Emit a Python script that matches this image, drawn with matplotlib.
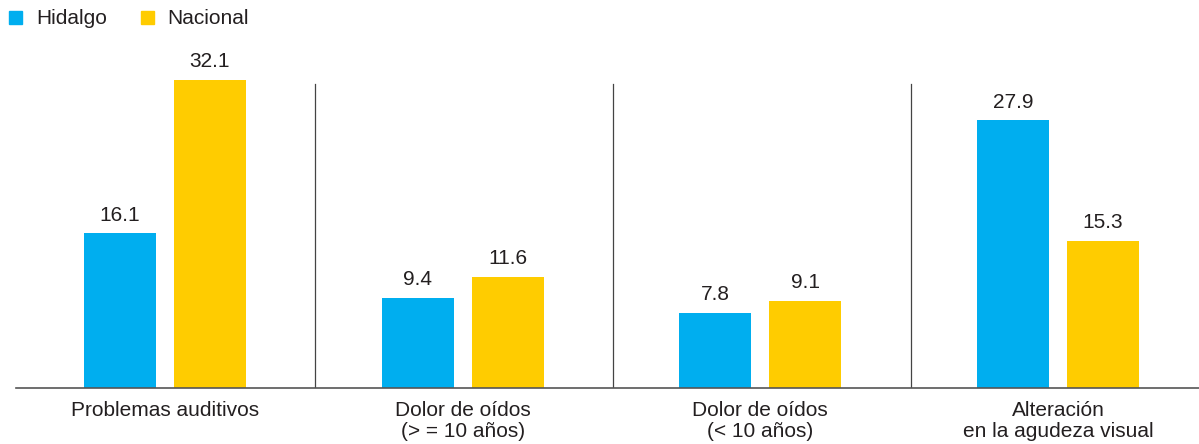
import numpy as np
import matplotlib.pyplot as plt
from matplotlib.patches import Rectangle

plt.rcParams['font.family'] = ['Liberation Sans', 'DejaVu Sans']

categories = ['Problemas auditivos', 'Dolor de oídos\n(> = 10 años)',
              'Dolor de oídos\n(< 10 años)', 'Alteración\nen la agudeza visual']
hidalgo = [16.1, 9.4, 7.8, 27.9]
nacional = [32.1, 11.6, 9.1, 15.3]

blue = '#00AEEF'
yellow = '#FFCC00'
text_color = '#231F20'

fig = plt.figure(figsize=(11.99, 4.44), dpi=100)
ax = fig.add_axes([16 / 1199, 1 - 388 / 444, 1191 / 1199, 348 / 444])

x = np.arange(len(categories))
width = 0.242
offset = 0.151
b1 = ax.bar(x - offset, hidalgo, width, color=blue)
b2 = ax.bar(x + offset, nacional, width, color=yellow)

for bars, vals in ((b1, hidalgo), (b2, nacional)):
    for bar, v in zip(bars, vals):
        ax.text(bar.get_x() + bar.get_width() / 2, v + 0.9, f'{v:.1f}',
                ha='center', va='bottom', fontsize=15, color=text_color)

# separators between groups
for sep in x[:-1] + 0.505:
    ax.plot([sep, sep], [0, 31.7], color='#444444', linewidth=0.9)

ax.set_xlim(-0.5, len(categories) - 0.5)
ax.set_ylim(0, 36.25)
ax.set_yticks([])
ax.set_xticks(x)
ax.set_xticklabels(categories, fontsize=15, color=text_color, linespacing=1.18)
ax.tick_params(axis='x', length=0, pad=9)
for side in ('top', 'right', 'left'):
    ax.spines[side].set_visible(False)
ax.spines['bottom'].set_color('#555555')
ax.spines['bottom'].set_linewidth(1.2)

# legend
fig.patches.append(Rectangle((9 / 1199, 1 - 24 / 444), 13 / 1199, 13 / 444,
                             transform=fig.transFigure, color=blue))
fig.text(36 / 1199, 1 - 18 / 444, 'Hidalgo', fontsize=15, va='center', color=text_color)
fig.patches.append(Rectangle((141 / 1199, 1 - 24 / 444), 13 / 1199, 13 / 444,
                             transform=fig.transFigure, color=yellow))
fig.text(167 / 1199, 1 - 18 / 444, 'Nacional', fontsize=15, va='center', color=text_color)

fig.savefig('out.png', dpi=100)
